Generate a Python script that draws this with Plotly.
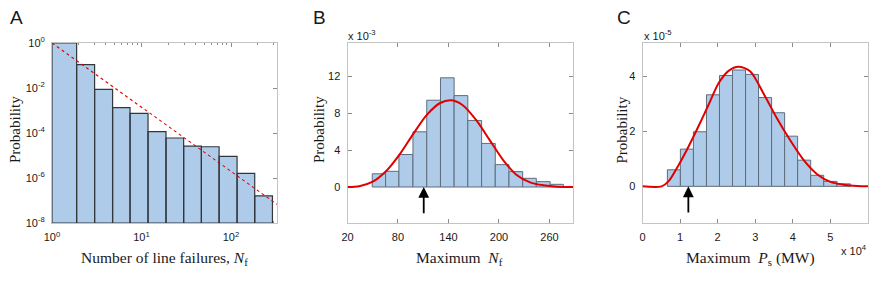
import plotly.graph_objects as go

W, H = 872, 291

# ---------------- data ----------------
# Panel A: histogram of number of line failures (log-log)
a_edges = [1.0, 1.884, 2.992, 4.753, 7.447, 11.83, 18.79, 29.58, 46.67, 73.62, 116.9, 184.1, 290.4]
a_prob = [1.0, 0.109, 8.7e-3, 1.35e-3, 7.4e-4, 1.15e-4, 6.0e-5, 2.6e-5, 2.45e-5, 9.1e-6, 1.62e-6, 1.6e-7]
a_fit_x = [1.0, 326.0]
a_fit_y = [1.0, 6.8e-8]
a_yticks = [1, 1e-2, 1e-4, 1e-6, 1e-8]
a_yticktext = ["10<sup>0</sup>", "10<sup>-2</sup>", "10<sup>-4</sup>", "10<sup>-6</sup>", "10<sup>-8</sup>"]
a_xticks = [1, 10, 100]
a_xticktext = ["10<sup>0</sup>", "10<sup>1</sup>", "10<sup>2</sup>"]
a_xminor = [2, 3, 4, 5, 6, 7, 8, 9, 20, 30, 40, 50, 60, 70, 80, 90, 200, 300]

# Panel B: maximum N_f (probability in units of 1e-3)
b_edges = [49.4, 65.3, 81.1, 97.8, 114.2, 130.5, 146.7, 163.0, 179.4, 195.6, 211.9, 228.2, 244.4, 260.8, 276.6]
b_prob = [1.43, 1.70, 3.52, 5.98, 9.40, 11.83, 9.90, 7.21, 4.72, 2.42, 1.67, 0.94, 0.58, 0.29]
b_fit_x = [20, 34, 50, 66, 82, 98, 114, 130, 143.6, 157, 173, 189, 205, 221, 237, 253, 269, 288]
b_fit_y = [0, 0.08, 0.57, 1.73, 3.53, 5.73, 7.78, 9.1, 9.4, 8.86, 7.24, 5.08, 2.92, 1.30, 0.5, 0.18, 0.04, 0]
b_arrow_x = 110.6
b_xticks = [20, 80, 140, 200, 260]
b_yticks = [0, 4, 8, 12]

# Panel C: maximum P_s (x in units of 1e4 MW, probability in units of 1e-5)
c_edges = [0.662, 1.008, 1.355, 1.702, 2.048, 2.395, 2.742, 3.088, 3.435, 3.782, 4.128, 4.475, 4.822, 5.175, 5.53]
c_prob = [0.60, 1.35, 1.98, 3.32, 4.02, 4.22, 4.06, 3.22, 2.67, 1.82, 0.95, 0.40, 0.18, 0.09]
c_fit_x = [0, 0.51, 0.69, 0.955, 1.22, 1.49, 1.755, 2.02, 2.29, 2.555, 2.87, 3.22, 3.58, 3.93, 4.29, 4.645, 5.0, 5.35, 5.71, 6.0]
c_fit_y = [0, 0, 0.18, 0.76, 1.43, 2.18, 2.95, 3.73, 4.19, 4.34, 4.17, 3.37, 2.46, 1.67, 0.95, 0.44, 0.16, 0.06, 0.01, 0]
c_arrow_x = 1.22
c_xticks = [0, 1, 2, 3, 4, 5]
c_yticks = [0, 2, 4]

# ---------------- styles ----------------
BAR_FILL = "rgb(174,204,234)"
BAR_EDGE_A = "rgb(50,55,60)"
BAR_EDGE_BC = "rgb(95,108,122)"
RED = "rgb(225,0,0)"
AXIS_COL = "rgb(196,196,196)"
TICK_COL = "rgb(140,140,140)"
TXT = "rgb(25,25,25)"
SANS = "Liberation Sans, Arial, sans-serif"
SERIF = "Liberation Serif, Times New Roman, serif"

def px_x(p):
    return p / W

def px_y(p):
    return (H - p) / H

Y_DOM = [px_y(223), px_y(43)]
A_DOM = [px_x(52), px_x(277)]
B_DOM = [px_x(347.5), px_x(573)]
C_DOM = [px_x(642.5), px_x(868)]

fig = go.Figure()

# Panel A bars as closed polygons on the log-log axes
ax_x, ax_y = [], []
bottom = 1e-8
for i, h in enumerate(a_prob):
    e0, e1 = a_edges[i], a_edges[i + 1]
    ax_x += [e0, e0, e1, e1, e0, None]
    ax_y += [bottom, h, h, bottom, bottom, None]
fig.add_trace(go.Scatter(x=ax_x, y=ax_y, mode="lines", fill="toself",
                         fillcolor=BAR_FILL, line=dict(color=BAR_EDGE_A, width=1.2),
                         xaxis="x", yaxis="y", showlegend=False, hoverinfo="skip"))
fig.add_trace(go.Scatter(x=a_fit_x, y=a_fit_y, mode="lines",
                         line=dict(color=RED, width=1.1, dash="dot"),
                         xaxis="x", yaxis="y", showlegend=False))

# Panel B bars
b_centers = [(b_edges[i] + b_edges[i + 1]) / 2 for i in range(len(b_prob))]
b_widths = [b_edges[i + 1] - b_edges[i] for i in range(len(b_prob))]
fig.add_trace(go.Bar(x=b_centers, y=b_prob, width=b_widths,
                     marker=dict(color=BAR_FILL, line=dict(color=BAR_EDGE_BC, width=1)),
                     xaxis="x2", yaxis="y2", showlegend=False))
fig.add_trace(go.Scatter(x=b_fit_x, y=b_fit_y, mode="lines", line_shape="spline",
                         line=dict(color=RED, width=2, smoothing=0.8),
                         xaxis="x2", yaxis="y2", showlegend=False))

# Panel C bars
c_centers = [(c_edges[i] + c_edges[i + 1]) / 2 for i in range(len(c_prob))]
c_widths = [c_edges[i + 1] - c_edges[i] for i in range(len(c_prob))]
fig.add_trace(go.Bar(x=c_centers, y=c_prob, width=c_widths,
                     marker=dict(color=BAR_FILL, line=dict(color=BAR_EDGE_BC, width=1)),
                     xaxis="x3", yaxis="y3", showlegend=False))
fig.add_trace(go.Scatter(x=c_fit_x, y=c_fit_y, mode="lines", line_shape="spline",
                         line=dict(color=RED, width=2, smoothing=0.8),
                         xaxis="x3", yaxis="y3", showlegend=False))

common = dict(showline=True, linecolor=AXIS_COL, linewidth=1, mirror="ticks",
              ticks="inside", ticklen=4, tickcolor=TICK_COL, tickwidth=1,
              showgrid=False, zeroline=False, layer="below traces", automargin=False,
              tickfont=dict(family=SANS, size=11, color=TXT), ticklabelstandoff=4)

fig.update_layout(
    template="none",
    width=W, height=H, margin=dict(l=0, r=0, t=0, b=0, autoexpand=False),
    paper_bgcolor="white", plot_bgcolor="white", bargap=0,
    xaxis=dict(domain=A_DOM, anchor="y", type="log", range=[0, 2.514],
               tickvals=a_xticks, ticktext=a_xticktext,
               minor=dict(ticks="inside", ticklen=2, tickcolor=TICK_COL, showgrid=False,
                          tickmode="array", tickvals=a_xminor),
               **common),
    yaxis=dict(domain=Y_DOM, anchor="x", type="log", range=[-8, 0],
               tickvals=a_yticks, ticktext=a_yticktext, **common),
    xaxis2=dict(domain=B_DOM, anchor="y2", range=[20, 288], tickvals=b_xticks, **common),
    yaxis2=dict(domain=Y_DOM, anchor="x2", range=[-3.9, 15.6], tickvals=b_yticks, **common),
    xaxis3=dict(domain=C_DOM, anchor="y3", range=[0, 6], tickvals=c_xticks, **common),
    yaxis3=dict(domain=Y_DOM, anchor="x3", range=[-1.33, 5.2], tickvals=c_yticks, **common),
)

ann = []
# panel letters
for letter, xp in [("A", 8), ("B", 311), ("C", 615)]:
    ann.append(dict(text=letter, x=px_x(xp), y=px_y(17), xref="paper", yref="paper",
                    xanchor="left", yanchor="middle", showarrow=False,
                    font=dict(family=SANS, size=19, color=TXT)))
# y titles
for xp in [15, 319, 621.5]:
    ann.append(dict(text="Probability", x=px_x(xp), y=px_y(130), xref="paper", yref="paper",
                    textangle=-90, xanchor="center", yanchor="middle", showarrow=False,
                    font=dict(family=SERIF, size=15, color=TXT)))
# x titles
xt = [("Number of line failures, <i>N</i><sub>f</sub>", 164.5),
      ("Maximum&nbsp; <i>N</i><sub>f</sub>", 460),
      ("Maximum&nbsp; <i>P</i><sub>s</sub> (MW)", 750)]
for t, xp in xt:
    ann.append(dict(text=t, x=px_x(xp), y=px_y(258), xref="paper", yref="paper",
                    xanchor="center", yanchor="middle", showarrow=False,
                    font=dict(family=SERIF, size=15.5, color=TXT)))
# scale factors
ann.append(dict(text="x 10<sup>-3</sup>", x=px_x(346), y=px_y(35), xref="paper", yref="paper",
                xanchor="left", yanchor="middle", showarrow=False,
                font=dict(family=SANS, size=11, color=TXT)))
ann.append(dict(text="x 10<sup>-5</sup>", x=px_x(641.5), y=px_y(35), xref="paper", yref="paper",
                xanchor="left", yanchor="middle", showarrow=False,
                font=dict(family=SANS, size=11, color=TXT)))
ann.append(dict(text="x 10<sup>4</sup>", x=px_x(869), y=px_y(250), xref="paper", yref="paper",
                xanchor="right", yanchor="middle", showarrow=False,
                font=dict(family=SANS, size=11, color=TXT)))
# arrows
ann.append(dict(x=b_arrow_x, y=0, ax=b_arrow_x, ay=-3.0, xref="x2", yref="y2",
                axref="x2", ayref="y2", text="", showarrow=True, arrowhead=2,
                arrowsize=1.2, arrowwidth=1.8, arrowcolor="black"))
ann.append(dict(x=c_arrow_x, y=0, ax=c_arrow_x, ay=-1.0, xref="x3", yref="y3",
                axref="x3", ayref="y3", text="", showarrow=True, arrowhead=2,
                arrowsize=1.2, arrowwidth=1.8, arrowcolor="black"))
fig.update_layout(annotations=ann)

fig.write_html("out.html", config={"displayModeBar": False, "staticPlot": True})

# remove the browser's default page margin so the figure sits at the window origin
with open("out.html", "r", encoding="utf-8") as f:
    html = f.read()
html = html.replace("<head>", "<head><style>html,body{margin:0;padding:0;overflow:hidden;}</style>", 1)
with open("out.html", "w", encoding="utf-8") as f:
    f.write(html)
